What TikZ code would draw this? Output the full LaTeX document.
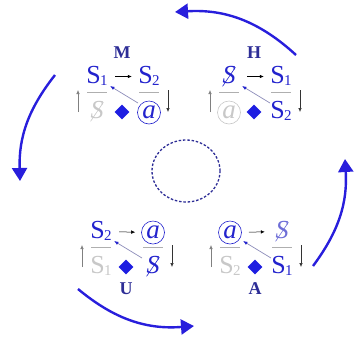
\documentclass[tikz,border=0pt]{standalone}
\usepackage{fontspec}
\setmainfont{Liberation Serif}
\usepackage{graphicx}
\usetikzlibrary{arrows.meta,shapes.geometric}
\definecolor{tblue}{RGB}{35,35,205}
\definecolor{lblue}{RGB}{110,110,215}
\definecolor{tgray}{RGB}{200,200,200}
\definecolor{bargray}{RGB}{175,175,175}
\definecolor{dblue}{RGB}{30,30,225}
\definecolor{bigblue}{RGB}{40,30,220}
\definecolor{navy}{RGB}{45,45,150}
\definecolor{diagc}{RGB}{140,140,185}
\newcommand\Sone{S\kern-0.5pt\raisebox{-2pt}{\fontsize{15}{15}\selectfont 1}}
\newcommand\Stwo{S\kern-0.5pt\raisebox{-2pt}{\fontsize{15}{15}\selectfont 2}}
\newcommand\barS{\ooalign{\hfil\itshape S\hfil\cr\hfil\raisebox{-3pt}{\rotatebox{56}{\rule{23pt}{0.6pt}}}\hfil\cr}}
\tikzset{
  item/.style={inner sep=0pt, minimum width=22pt, text height=17pt, text depth=3pt, font=\fontsize{26}{26}\selectfont},
  S1b/.style={text=tblue, node contents={\Sone}},
  S1g/.style={text=tgray, node contents={\Sone}},
  S2b/.style={text=tblue, node contents={\Stwo}},
  S2g/.style={text=tgray, node contents={\Stwo}},
  bSb/.style={text=tblue, node contents={\barS}},
  bSg/.style={text=tgray, node contents={\barS}},
  bSl/.style={text=lblue, node contents={\barS}},
  circ/.style={circle, line width=0.6pt, text height=12pt, text depth=0pt, minimum size=23pt, yshift=-1pt, font=\fontsize{27}{27}\selectfont\itshape},
  ab/.style={circ, draw=tblue, text=tblue, node contents={a}},
  ag/.style={circ, draw=tgray, text=tgray, node contents={a}},
  dmd/.style={diamond, fill=dblue, inner sep=0pt, minimum width=15pt, minimum height=15pt},
  lab/.style={text=navy, font=\bfseries\fontsize{18}{18}\selectfont, inner sep=0pt},
  bar/.style={draw=bargray, line width=0.6pt},
  upar/.style={draw=gray, line width=0.6pt, -{Latex[length=4pt,width=3.5pt]}},
  dnar/.style={draw=black!80, line width=0.6pt, -{Latex[length=4pt,width=3.5pt]}},
  harr/.style={draw=black, line width=0.5pt, -{Latex[length=4pt,width=3.5pt]}, shorten <=7pt, shorten >=6pt},
  garr/.style={draw=diagc, line width=0.7pt, -{Latex[length=4.5pt,width=3.5pt,color=tblue]}},
  bigarr/.style={draw=bigblue, line width=2.4pt, -{Triangle[length=13pt,width=15pt]}},
}
\newcommand\discblock[9]{%
\begin{scope}[shift={(#2,#3)}]
\node[dmd] (#1d) at (0,0) {};
\node (#1tl) at (-25,-35.5) [item,#4];
\node (#1tr) at (27,-35.5) [item,#5];
\node (#1bl) at (-25,-0.5) [item,#6];
\node (#1br) at (27,-0.5) [item,#7];
\node[lab] (#1lab) at (0,#9) {#8};
\coordinate (#1ba) at (-35,-20); \coordinate (#1bb) at (-15,-20);
\coordinate (#1bc) at (17,-20); \coordinate (#1bd) at (37,-20);
\draw[bar] (#1ba) -- (#1bb);
\draw[bar] (#1bc) -- (#1bd);
\coordinate (#1la) at (-44,0); \coordinate (#1lb) at (-44,-22);
\coordinate (#1ra) at (46,-22); \coordinate (#1rb) at (46,0);
\draw[upar] (#1la) -- (#1lb);
\draw[dnar] (#1ra) -- (#1rb);
\draw[harr] (#1tl) -- (#1tr);
\coordinate (#1ga) at (16,-9); \coordinate (#1gb) at (-12,-26);
\draw[garr] (#1ga) -- (#1gb);
\end{scope}}
\begin{document}
\begin{tikzpicture}[x=1pt,y=-1pt]
\path[use as bounding box] (0,0) rectangle (355,338);
\discblock{m}{122}{112}{S1b}{S2b}{bSg}{ab}{M}{-59}
\discblock{h}{254}{112}{bSb}{S1b}{ag}{S2b}{H}{-59}
\discblock{u}{126}{267}{S2b}{ab}{S1g}{bSb}{U}{22}
\discblock{a}{255}{267}{ab}{bSl}{S2g}{S1b}{A}{22}
\node[ellipse, draw=navy, dashed, dash pattern=on 2.5pt off 1.8pt, line width=1.3pt, minimum width=68pt, minimum height=62pt, inner sep=0pt] (ctr) at (186,171) {};
\coordinate (t0) at (296,55); \coordinate (t1) at (175,12);
\coordinate (l0) at (55,75); \coordinate (l1) at (20,181);
\coordinate (b0) at (78,289); \coordinate (b1) at (194,326);
\coordinate (r0) at (313,266); \coordinate (r1) at (345,159);
\draw[bigarr] (t0) to[bend right=23] (t1);
\draw[bigarr] (l0) to[bend right=20] (l1);
\draw[bigarr] (b0) to[bend right=22] (b1);
\draw[bigarr] (r0) to[bend right=20] (r1);
\end{tikzpicture}
\end{document}
